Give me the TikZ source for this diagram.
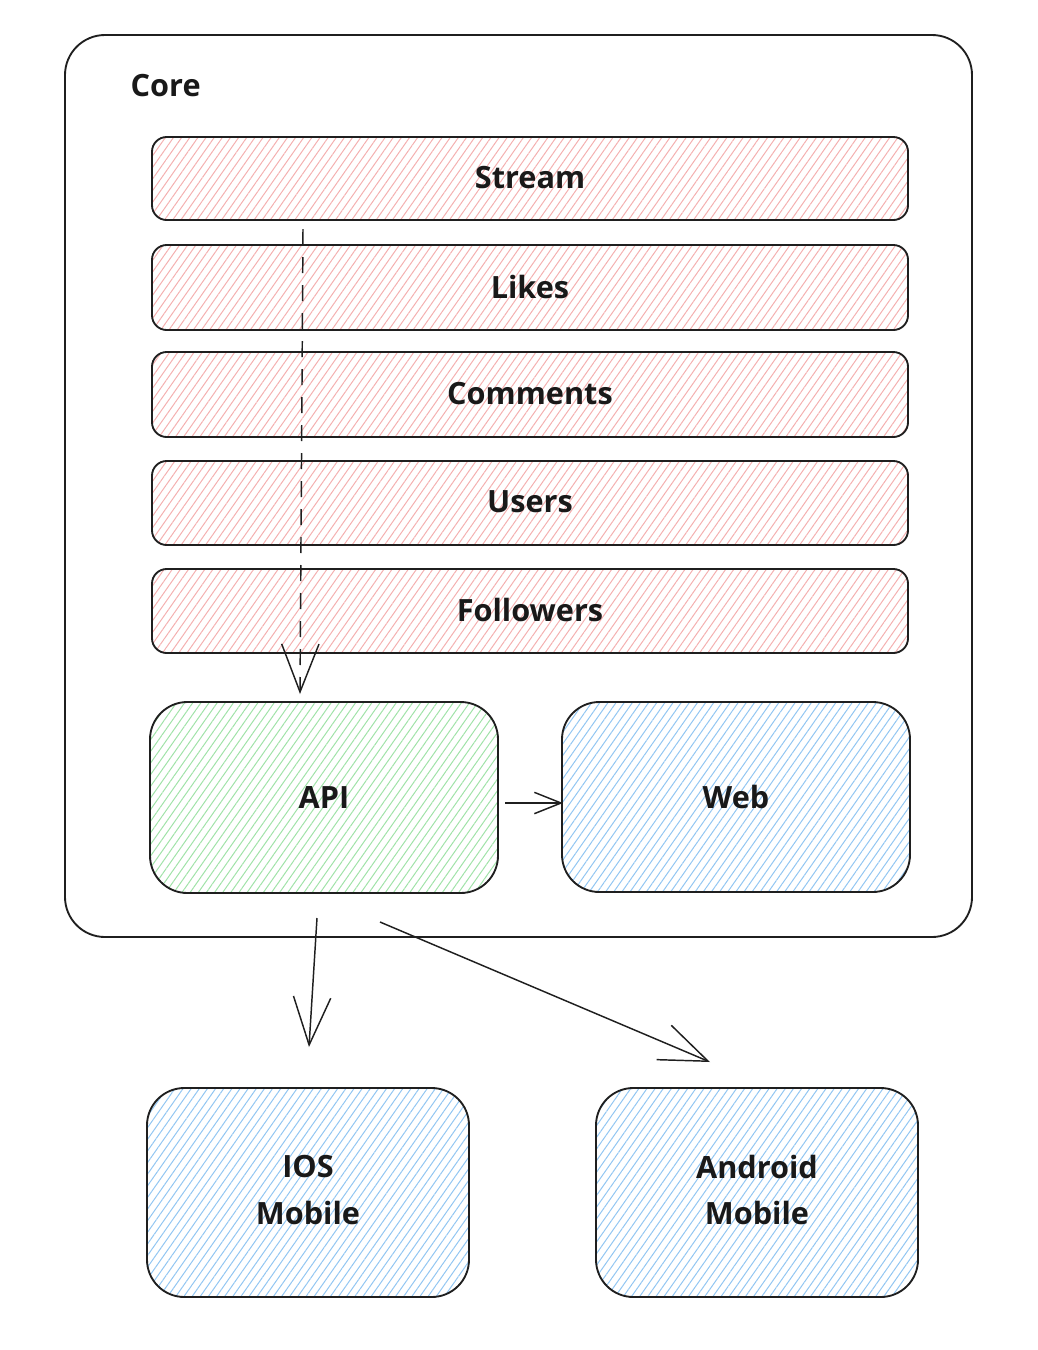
\documentclass[tikz,border=0pt]{standalone}
\usepackage{fontspec}
\setmainfont{Open Sans}
\usetikzlibrary{patterns.meta,arrows.meta}
\definecolor{pinkh}{HTML}{F4B0B0}
\definecolor{greenh}{HTML}{A0E2A8}
\definecolor{blueh}{HTML}{92C6F2}
\tikzset{
  box/.style={draw=black!88, line width=1.4pt, rounded corners=#1},
  hatch/.style={pattern={Lines[angle=55,distance=5pt,line width=0.75pt]}, pattern color=#1},
  bar/.style={box=11pt, hatch=pinkh},
  apibox/.style={box=28pt, hatch=greenh},
  bluebox/.style={box=28pt, hatch=blueh},
  lbl/.style={font=\fontsize{23}{35}\selectfont\bfseries, text=black!90, align=center},
  conn/.style={draw=black!88, line width=1.1pt, -{Straight Barb[length=36pt,width=28pt,line width=1.1pt]}},
}
\begin{document}
\begin{tikzpicture}[x=0.75pt,y=-0.75pt]
\useasboundingbox (0,0) rectangle (1038,1350);
\draw[box=30pt] (65,35) rectangle (972,937);
\node[lbl, anchor=west] (core) at (126,86) {Core};
\draw[bar] (152,137) rectangle (908,220);
\draw[bar] (152,245) rectangle (908,330);
\draw[bar] (152,352) rectangle (908,437);
\draw[bar] (152,461) rectangle (908,545);
\draw[bar] (152,569) rectangle (908,653);
\node[lbl] (stream) at (530,178) {Stream};
\node[lbl] (likes) at (530,287) {Likes};
\node[lbl] (comments) at (530,394) {Comments};
\node[lbl] (users) at (530,502) {Users};
\node[lbl] (followers) at (530,610) {Followers};
\draw[apibox] (150,702) rectangle (498,893);
\draw[bluebox] (562,702) rectangle (910,892);
\node[lbl] (api) at (324,797) {API};
\node[lbl] (web) at (736,797) {Web};
\draw[bluebox] (147,1088) rectangle (469,1297);
\draw[bluebox] (596,1088) rectangle (918,1297);
\node[lbl] (ios) at (308,1190) {IOS\\Mobile};
\node[lbl] (android) at (757,1190) {Android\\Mobile};
\coordinate (s0) at (303,229);
\coordinate (s1) at (300,694);
\draw[conn, dash pattern=on 12pt off 9pt] (s0) -- (s1);
\coordinate (a0) at (505,803);
\coordinate (a1) at (563,803);
\draw[conn, -{Straight Barb[length=20pt,width=16pt,line width=1.1pt]}] (a0) -- (a1);
\coordinate (b0) at (317,918);
\coordinate (b1) at (309,1047);
\draw[conn] (b0) -- (b1);
\coordinate (c0) at (380,922);
\coordinate (c1) at (710,1062);
\draw[conn] (c0) -- (c1);
\end{tikzpicture}
\end{document}
